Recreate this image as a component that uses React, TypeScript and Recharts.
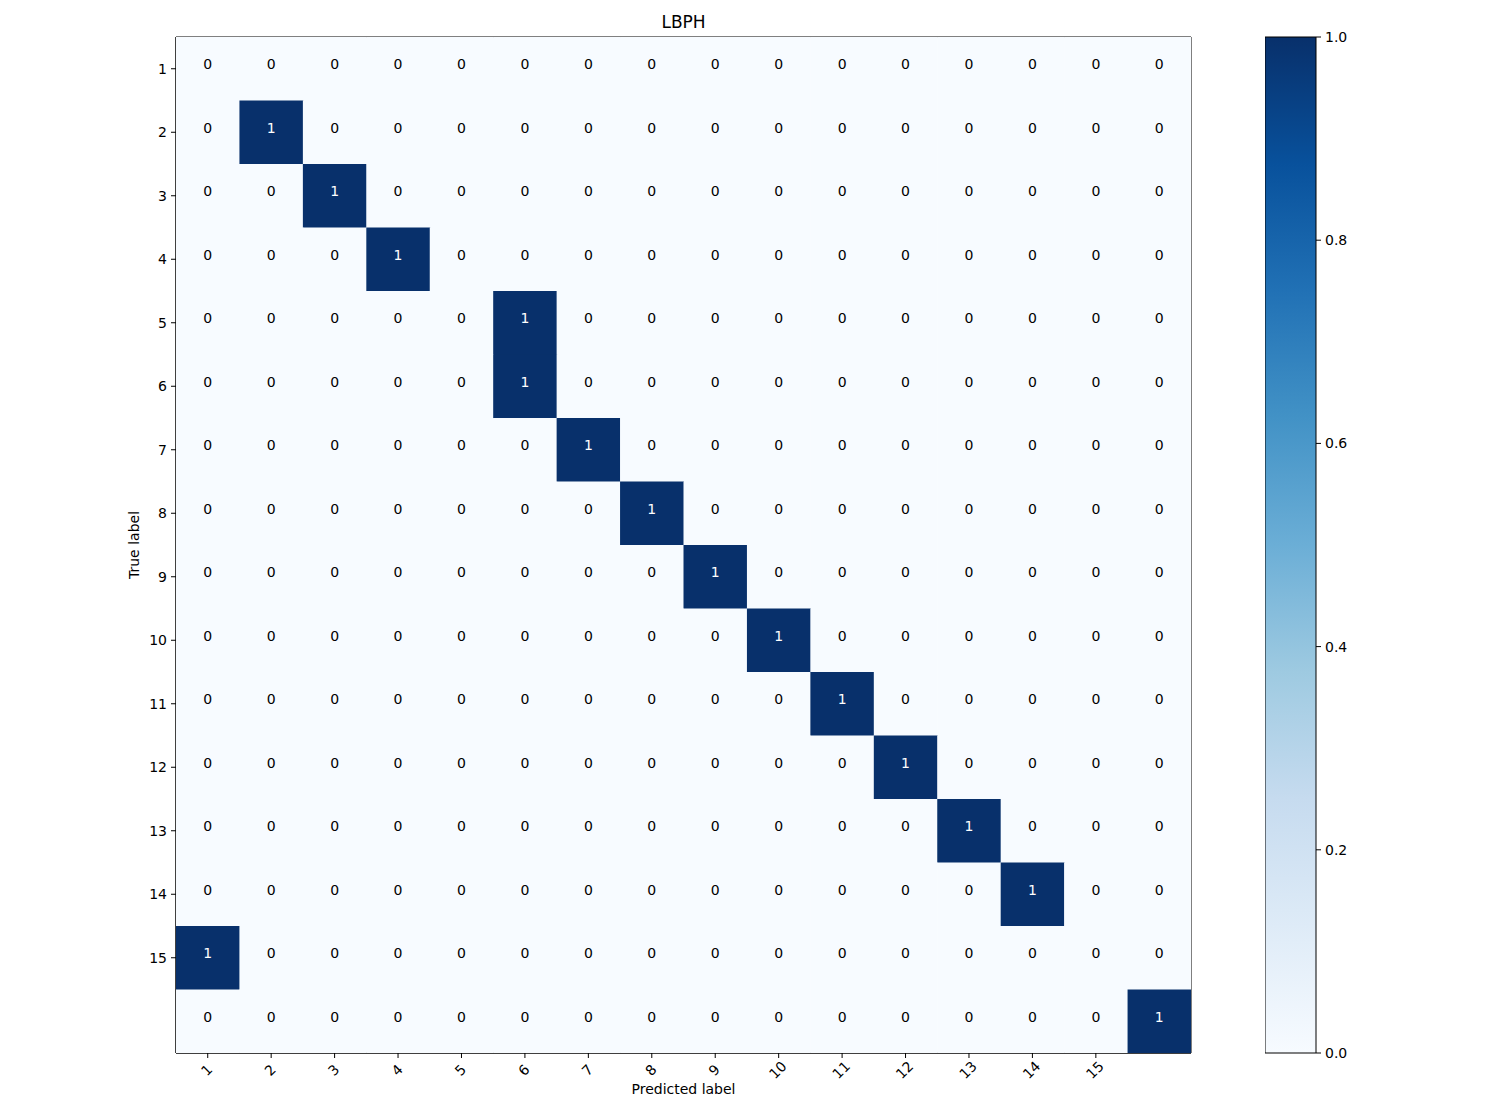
import { ScatterChart, Scatter, XAxis, YAxis, ReferenceLine, BarChart, Bar } from 'recharts';

const classLabels = ['1', '2', '3', '4', '5', '6', '7', '8', '9', '10', '11', '12', '13', '14', '15'];

// rows = true label, cols = predicted label
const matrix = [
  [0, 0, 0, 0, 0, 0, 0, 0, 0, 0, 0, 0, 0, 0, 0, 0],
  [0, 1, 0, 0, 0, 0, 0, 0, 0, 0, 0, 0, 0, 0, 0, 0],
  [0, 0, 1, 0, 0, 0, 0, 0, 0, 0, 0, 0, 0, 0, 0, 0],
  [0, 0, 0, 1, 0, 0, 0, 0, 0, 0, 0, 0, 0, 0, 0, 0],
  [0, 0, 0, 0, 0, 1, 0, 0, 0, 0, 0, 0, 0, 0, 0, 0],
  [0, 0, 0, 0, 0, 1, 0, 0, 0, 0, 0, 0, 0, 0, 0, 0],
  [0, 0, 0, 0, 0, 0, 1, 0, 0, 0, 0, 0, 0, 0, 0, 0],
  [0, 0, 0, 0, 0, 0, 0, 1, 0, 0, 0, 0, 0, 0, 0, 0],
  [0, 0, 0, 0, 0, 0, 0, 0, 1, 0, 0, 0, 0, 0, 0, 0],
  [0, 0, 0, 0, 0, 0, 0, 0, 0, 1, 0, 0, 0, 0, 0, 0],
  [0, 0, 0, 0, 0, 0, 0, 0, 0, 0, 1, 0, 0, 0, 0, 0],
  [0, 0, 0, 0, 0, 0, 0, 0, 0, 0, 0, 1, 0, 0, 0, 0],
  [0, 0, 0, 0, 0, 0, 0, 0, 0, 0, 0, 0, 1, 0, 0, 0],
  [0, 0, 0, 0, 0, 0, 0, 0, 0, 0, 0, 0, 0, 1, 0, 0],
  [1, 0, 0, 0, 0, 0, 0, 0, 0, 0, 0, 0, 0, 0, 0, 0],
  [0, 0, 0, 0, 0, 0, 0, 0, 0, 0, 0, 0, 0, 0, 0, 1],
];

const colorbarTicks = [0, 0.2, 0.4, 0.6, 0.8, 1.0];

const blues = ['#f7fbff', '#deebf7', '#c6dbef', '#9ecae1', '#6baed6', '#4292c6', '#2171b5', '#08519c', '#08306b'];

const N = matrix.length;
const cells = matrix.flatMap((row, r) => row.map((v, c) => ({ x: c + 1, y: r + 1, v })));
const tickIdx = classLabels.map((_, i) => i + 1);

const font = 'DejaVu Sans, sans-serif';
const W = 1500;
const H = 1100;
const plot = { left: 176, top: 37, right: 1191, bottom: 1053 };
const cellW = (plot.right - plot.left) / N;
const cellH = (plot.bottom - plot.top) / N;

const CellShape = (props: any) => {
  const { cx, cy, payload } = props;
  const dark = payload.v > 0.5;
  return (
    <g>
      <rect x={cx - cellW / 2} y={cy - cellH / 2} width={cellW + 0.5} height={cellH + 0.5} fill={dark ? blues[8] : blues[0]} />
      <text x={cx} y={cy - 4.5} textAnchor="middle" dominantBaseline="central" fontSize={14} fontFamily={font} fill={dark ? '#fff' : '#000'}>
        {payload.v}
      </text>
    </g>
  );
};

const XTick = (props: any) => {
  const { x, y, payload } = props;
  return (
    <g transform={`translate(${x - 1},${y + 10})`}>
      <text transform="rotate(-45)" textAnchor="middle" dominantBaseline="central" fontSize={14} fontFamily={font} fill="#000">
        {classLabels[payload.value - 1]}
      </text>
    </g>
  );
};

export default function App() {
  return (
    <div style={{ position: 'absolute', left: 0, top: 0, width: W, height: H, background: '#fff', fontFamily: font }}>
      <div style={{ position: 'absolute', left: plot.left, width: plot.right - plot.left, top: 12, textAlign: 'center', fontSize: 17 }}>LBPH</div>
      <div style={{ position: 'absolute', left: plot.left, width: plot.right - plot.left, top: 1081, textAlign: 'center', fontSize: 14, lineHeight: '17px' }}>Predicted label</div>
      <div style={{ position: 'absolute', left: 134, top: (plot.top + plot.bottom) / 2, fontSize: 14, transform: 'translate(-50%,-50%) rotate(-90deg)', whiteSpace: 'nowrap' }}>True label</div>

      <div style={{ position: 'absolute', left: 0, top: 0 }}>
        <ScatterChart width={W} height={H} margin={{ top: plot.top, right: W - plot.right, bottom: H - plot.bottom - 40, left: plot.left - 60 }}>
          <XAxis
            type="number"
            dataKey="x"
            domain={[0.5, N + 0.5]}
            ticks={tickIdx}
            height={40}
            tick={<XTick />}
            tickSize={5}
            stroke="#000"
            tickLine={{ stroke: '#000' }}
            allowDataOverflow
          />
          <YAxis
            type="number"
            dataKey="y"
            domain={[0.5, N + 0.5]}
            reversed
            ticks={tickIdx}
            tickFormatter={(v: number) => classLabels[v - 1]}
            width={60}
            tickSize={5}
            tickMargin={4}
            stroke="#000"
            tick={{ fill: '#000', fontSize: 14, fontFamily: font }}
            allowDataOverflow
          />
          <Scatter data={cells} shape={<CellShape />} isAnimationActive={false} />
          <ReferenceLine y={0.5} stroke="#000" />
          <ReferenceLine x={N + 0.5} stroke="#000" />
          <ReferenceLine y={N + 0.5} stroke="#000" />
          <ReferenceLine x={0.5} stroke="#000" />
        </ScatterChart>
      </div>

      <div style={{ position: 'absolute', left: 1265, top: plot.top - 10 }}>
        <BarChart width={51 + 60} height={plot.bottom - plot.top + 20} data={[{ name: 'cb', v: 1 }]} margin={{ top: 10, bottom: 10, left: 0, right: 0 }} barCategoryGap={0}>
          <defs>
            <linearGradient id="bluesGrad" x1="0" y1="1" x2="0" y2="0">
              {blues.map((c, i) => (
                <stop key={c} offset={`${(i / (blues.length - 1)) * 100}%`} stopColor={c} />
              ))}
            </linearGradient>
          </defs>
          <XAxis dataKey="name" hide />
          <YAxis
            orientation="right"
            domain={[0, 1]}
            ticks={colorbarTicks}
            tickFormatter={(v: number) => v.toFixed(1)}
            width={60}
            tickSize={5}
            tickMargin={4}
            axisLine={false}
            tickLine={{ stroke: '#000' }}
            tick={{ fill: '#000', fontSize: 14, fontFamily: font }}
          />
          <Bar dataKey="v" fill="url(#bluesGrad)" stroke="#000" isAnimationActive={false} />
        </BarChart>
      </div>
    </div>
  );
}
